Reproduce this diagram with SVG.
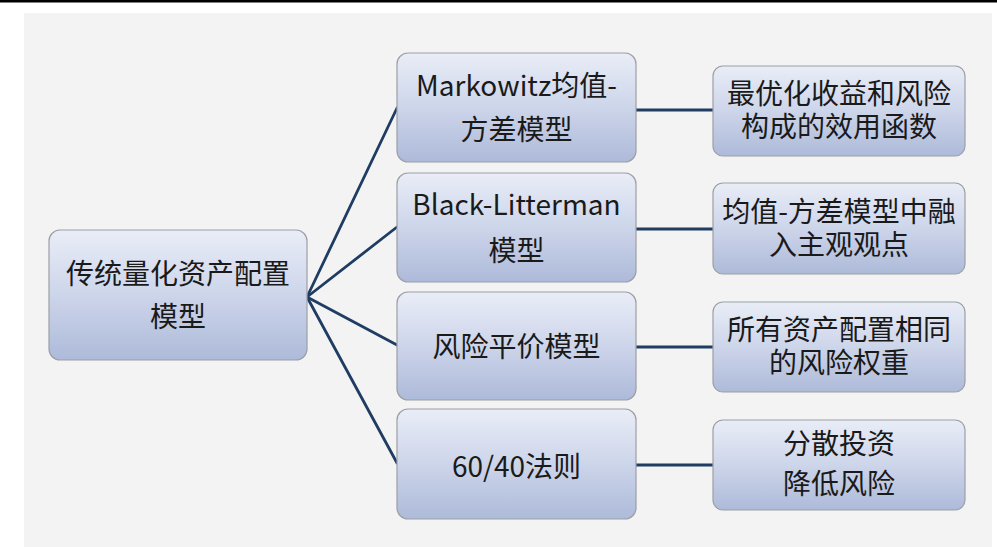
<svg xmlns="http://www.w3.org/2000/svg" width="997" height="547" viewBox="0 0 997 547">
<defs>
<linearGradient id="g" x1="0" y1="0" x2="0" y2="1">
<stop offset="0" stop-color="#e9edf7"/>
<stop offset="0.5" stop-color="#cdd5ea"/>
<stop offset="1" stop-color="#adbad9"/>
</linearGradient>
</defs>
<style>
.box{fill:url(#g);stroke:#9c9fa6;stroke-width:1.2}
.t{font-family:"Noto Sans CJK SC","Noto Sans",sans-serif;font-size:28px;fill:#1a1a1a;text-anchor:middle}
.c{stroke:#1f3d63;stroke-width:2.8;fill:none;stroke-linecap:round}
</style>
<rect x="0" y="0" width="997" height="547" fill="#ffffff"/>
<rect x="0" y="0" width="997" height="2.5" fill="#000000"/>
<rect x="24" y="13" width="968" height="534" fill="#f3f3f3"/>
<g id="connectors">
<line class="c" x1="307" y1="297" x2="397" y2="108"/>
<line class="c" x1="307" y1="297" x2="397" y2="227"/>
<line class="c" x1="307" y1="297" x2="397" y2="345"/>
<line class="c" x1="307" y1="297" x2="397" y2="463"/>
<line class="c" x1="636" y1="110" x2="713" y2="110"/>
<line class="c" x1="636" y1="229" x2="713" y2="229"/>
<line class="c" x1="636" y1="347" x2="713" y2="347"/>
<line class="c" x1="636" y1="465" x2="713" y2="465"/>
</g>
<g id="root">
<rect class="box" x="49" y="230" width="258" height="130" rx="11"/>
<text class="t" x="178" y="284">传统量化资产配置</text>
<text class="t" x="178" y="327">模型</text>
</g>
<g id="markowitz">
<rect class="box" x="397" y="53" width="239" height="109" rx="11"/>
<text class="t" x="516.5" y="96">Markowitz均值-</text>
<text class="t" x="516.5" y="140">方差模型</text>
</g>
<g id="black-litterman">
<rect class="box" x="397" y="173" width="239" height="109" rx="11"/>
<text class="t" x="516.5" y="215">Black-Litterman</text>
<text class="t" x="516.5" y="261">模型</text>
</g>
<g id="risk-parity">
<rect class="box" x="397" y="292" width="239" height="108" rx="11"/>
<text class="t" x="516.5" y="357">风险平价模型</text>
</g>
<g id="rule-60-40">
<rect class="box" x="397" y="409" width="239" height="110" rx="11"/>
<text class="t" x="516.5" y="477">60/40法则</text>
</g>
<g id="utility">
<rect class="box" x="713" y="66" width="252" height="90" rx="10"/>
<text class="t" x="839" y="104">最优化收益和风险</text>
<text class="t" x="839" y="137">构成的效用函数</text>
</g>
<g id="views">
<rect class="box" x="713" y="183" width="252" height="91" rx="10"/>
<text class="t" x="839" y="222">均值-方差模型中融</text>
<text class="t" x="839" y="255">入主观观点</text>
</g>
<g id="equal-risk">
<rect class="box" x="713" y="302" width="252" height="90" rx="10"/>
<text class="t" x="839" y="340">所有资产配置相同</text>
<text class="t" x="839" y="373">的风险权重</text>
</g>
<g id="diversify">
<rect class="box" x="713" y="420" width="252" height="90" rx="10"/>
<text class="t" x="839" y="454">分散投资</text>
<text class="t" x="839" y="494">降低风险</text>
</g>
</svg>
